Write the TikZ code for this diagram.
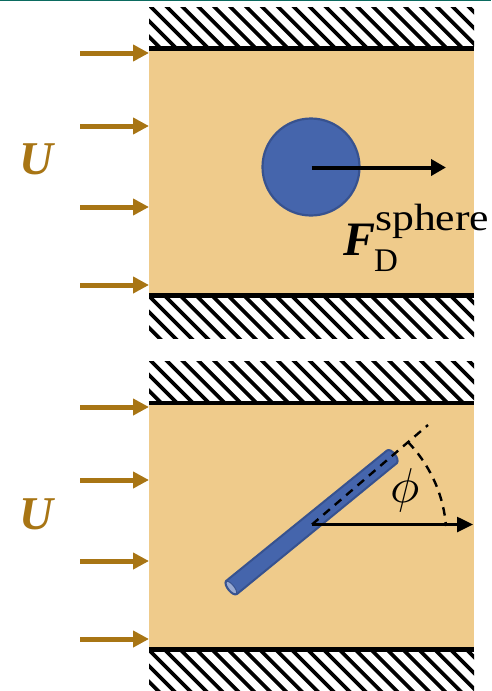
\documentclass[tikz,border=0pt]{standalone}
\usepackage{fontspec}
\usepackage{amsmath}
\setmainfont{Liberation Serif}
\usetikzlibrary{arrows.meta}
\definecolor{tan}{HTML}{EFCB8B}
\definecolor{flow}{HTML}{A87514}
\definecolor{blu}{HTML}{4565AC}
\definecolor{blued}{HTML}{37528F}
\definecolor{teal2}{HTML}{0B6B60}
\tikzset{
  flowarrow/.style={draw=flow,line width=5pt,-{Triangle[length=16pt,width=16pt]}},
  wall/.style={line width=4.5pt,black},
  hatchline/.style={line width=3.7pt,black},
  ulabel/.style={font=\fontsize{47}{47}\selectfont\bfseries\itshape,text=flow,inner sep=0pt},
  dashline/.style={line width=2.4pt,dash pattern=on 8.5pt off 6.5pt},
}
\newcommand{\hatchband}[2]{%
  \begin{scope}
    \clip (149,#1) rectangle (474,#2);
    \foreach \i in {-3,...,24}{
      \draw[hatchline] (148+15.9*\i,#1-3) -- ++(47,47);
    }
  \end{scope}}
\begin{document}
\begin{tikzpicture}[x=1pt,y=-1pt]
\useasboundingbox (0,0) rectangle (491,691);
\fill[white] (0,0) rectangle (491,691);
\fill[teal2] (0,0) rectangle (491,1);
% top panel
\fill[tan] (149,49) rectangle (474,296);
\hatchband{7}{47}
\hatchband{298}{338}
\draw[wall] (149,48.5) -- (474,48.5);
\draw[wall] (149,295.5) -- (474,295.5);
\coordinate (t1s) at (80,53); \coordinate (t1e) at (149,53);
\coordinate (t2s) at (80,126); \coordinate (t2e) at (149,126);
\coordinate (t3s) at (80,207); \coordinate (t3e) at (149,207);
\coordinate (t4s) at (80,285); \coordinate (t4e) at (149,285);
\foreach \n in {1,2,3,4}{\draw[flowarrow] (t\n s) -- (t\n e);}
\node[ulabel] (u1) at (36,159) {U};
\node[circle,minimum size=97pt,inner sep=0pt,fill=blu,draw=blued,line width=2.2pt] (sphere) at (311,167) {};
\coordinate (fs) at (311.5,167.5); \coordinate (fe) at (446,167.5);
\draw[line width=4pt,-{Triangle[length=15pt,width=16pt]}] (fs) -- (fe);
\node[inner sep=0pt,anchor=base west] (flabel) at (343,255) {\fontsize{48}{48}\selectfont\bfseries\itshape F};
\node[inner sep=0pt,anchor=base west,xscale=1.15] (sup) at (375,230) {\fontsize{38}{38}\selectfont sphere};
\node[inner sep=0pt,anchor=base west] (sub) at (374,271) {\fontsize{33}{33}\selectfont D};
% bottom panel
\fill[tan] (149,403) rectangle (474,650);
\hatchband{361}{401}
\hatchband{652}{691}
\draw[wall] (149,403) -- (474,403);
\draw[wall] (149,649.5) -- (474,649.5);
\coordinate (b1s) at (80,407); \coordinate (b1e) at (149,407);
\coordinate (b2s) at (80,480); \coordinate (b2e) at (149,480);
\coordinate (b3s) at (80,561); \coordinate (b3e) at (149,561);
\coordinate (b4s) at (80,639); \coordinate (b4e) at (149,639);
\foreach \n in {1,2,3,4}{\draw[flowarrow] (b\n s) -- (b\n e);}
\node[ulabel] (u2) at (36,514) {U};
% rod
\fill[blu,draw=blued,line width=2pt,line join=round]
  (226,581) -- (387,450.5) .. controls (391,447.5) and (400,458.5) .. (397,463)
  -- (237,594) .. controls (233,597) and (223,585) .. (226,581) -- cycle;
\draw[blued,fill=blu!55!white,line width=1pt] (226.5,581.5) .. controls (229,579.5) and (238,589.5) .. (236.5,593.5) .. controls (233,596) and (224,585) .. (226.5,581.5) -- cycle;
\coordinate (o) at (312,524.5);
\coordinate (tip) at (428,425);
\coordinate (xe) at (473,524.5);
\draw[dashline] (o) -- (tip);
\draw[dashline] (408,442) .. controls (427,462) and (443,490) .. (446,526);
\draw[line width=2.6pt,-{Triangle[length=16pt,width=15pt]}] (o) -- (xe);
\node[inner sep=0pt,scale=4.9,text=black] (phi) at (405,490) {$\phi$};
\end{tikzpicture}
\end{document}
